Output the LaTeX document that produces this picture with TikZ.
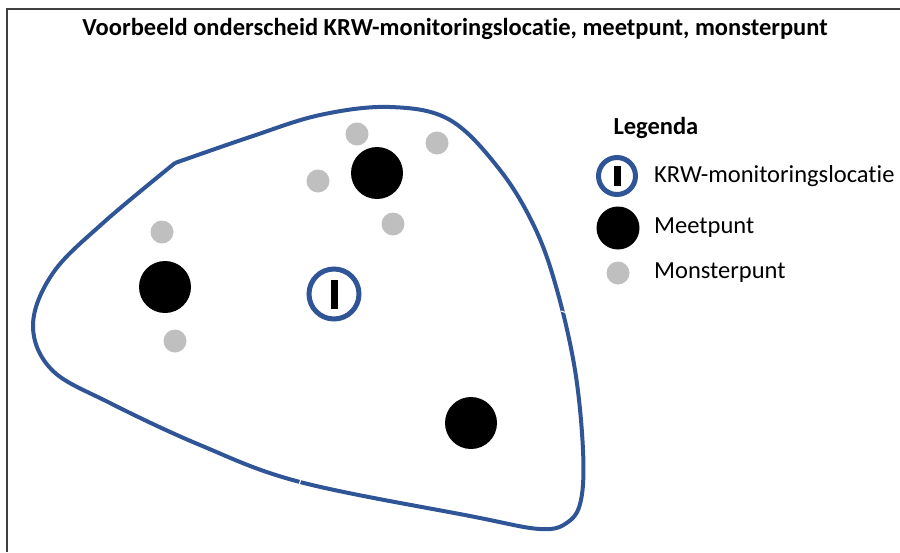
\documentclass[tikz,border=0pt]{standalone}
\usepackage{fontspec}
\setmainfont{Carlito}[Ligatures=NoCommon]
\usetikzlibrary{
  calc,
  positioning
}
\definecolor{krwblue}{HTML}{2F5597}
\definecolor{dotgrey}{HTML}{BFBFBF}
\tikzset{
  % For the outline of the water body.
  outline/.style={
    draw=krwblue,
    line width=4pt,
    line join=round},
%
  % For the tiny breaks in the outline.
  gap/.style={
    draw=white,
    line width=1pt},
%
  % For the KRW monitoring location: ring with a bar.
  krw/.style={
    circle,
    draw=krwblue,
    line width=5pt,
    inner sep=0pt,
    minimum size=#1},
%
  % For measuring points.
  meet/.style={
    circle,
    fill=black,
    inner sep=0pt,
    minimum size=52pt},
%
  % For sampling points.
  mon/.style={
    circle,
    fill=dotgrey,
    inner sep=0pt,
    minimum size=23pt},
%
  % For the title.
  title/.style={
    font=\fontsize{24.5pt}{28pt}\selectfont\bfseries},
%
  % For legend entries.
  legend text/.style={
    inner sep=0pt,
    anchor=west,
    font=\fontsize{24.5pt}{28pt}\selectfont}
}
\begin{document}
\begin{tikzpicture}[x=1pt, y=-1pt]
  \useasboundingbox (0,0) rectangle (900,552);
  \draw[line width=2pt, black!75] (7,552) -- (7,9) -- (900,9);

  \node[title, anchor=base] (title) at (455,35)
    {Voorbeeld onderscheid KRW-monitoringslocatie, meetpunt, monsterpunt};

  % Water body
  \draw[outline] plot[smooth, tension=0.6] coordinates {
    (175,163) (250,137) (320,115) (390,107) (450,120) (500,170)
    (535,228) (557,290) (575,370) (583,450) (581,500) (568,522)
    (540,529) (470,516) (300,482) (200,445) (110,403)
    (52,370) (33,325) (53,273) (103,223) (175,163)};
  \draw[gap] (561,311) -- (573,315);
  \draw[gap] (302,476) -- (298,488);

  % Points in the water body
  \node[krw=50pt] (location) at (334,294) {\rule{7pt}{29pt}};
  \node[meet] (meet left) at (165,287) {};
  \node[meet] (meet top) at (377,173) {};
  \node[meet] (meet right) at (471,423) {};
  \node[mon] (mon a) at (357,134) {};
  \node[mon] (mon b) at (437,143) {};
  \node[mon] (mon c) at (318,181) {};
  \node[mon] (mon d) at (393,224) {};
  \node[mon] (mon e) at (162,232) {};
  \node[mon] (mon f) at (175,341) {};

  % Legend
  \node[title, anchor=base west] (legend) at (610,134) {Legenda};
  \coordinate (legend x) at (654,0);
  \node[krw=37pt] (legend krw) at (617,176) {\rule{7pt}{20pt}};
  \node[meet, minimum size=43pt] (legend meet) at (618,228) {};
  \node[mon] (legend mon) at (618,273) {};
  \node[legend text] at (legend x |- legend krw) {KRW-monitoringslocatie};
  \node[legend text] at (legend x |- legend meet) {Meetpunt};
  \node[legend text] at (legend x |- legend mon) {Monsterpunt};
\end{tikzpicture}
\end{document}
